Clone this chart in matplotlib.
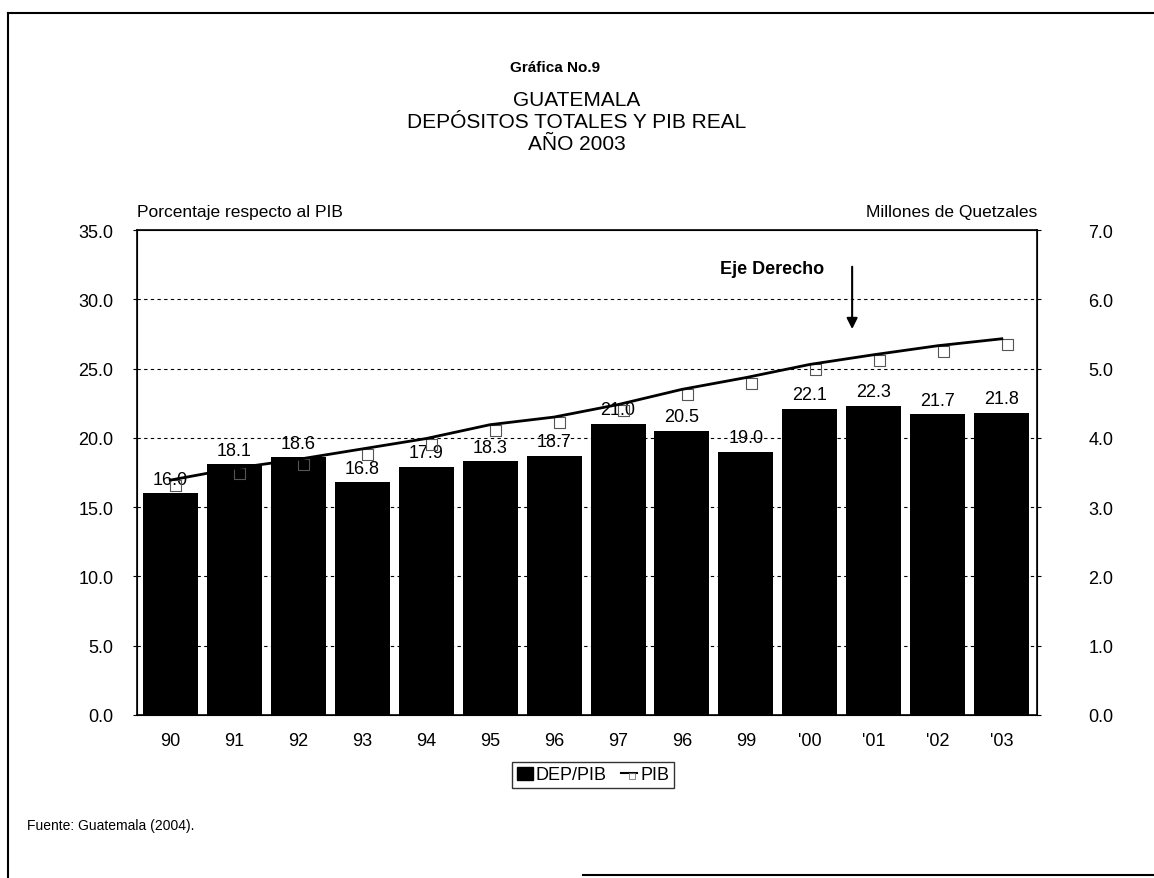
import matplotlib
matplotlib.use("Agg")
import matplotlib.pyplot as plt
from matplotlib.path import Path
from matplotlib.lines import Line2D
import matplotlib.patches as mpatches
import numpy as np

plt.rcParams["font.family"] = ["Liberation Sans", "DejaVu Sans"]

years = ["90", "91", "92", "93", "94", "95", "96", "97", "96", "99", "'00", "'01", "'02", "'03"]
dep_pib = [16.0, 18.1, 18.6, 16.8, 17.9, 18.3, 18.7, 21.0, 20.5, 19.0, 22.1, 22.3, 21.7, 21.8]
pib = [3.39, 3.56, 3.69, 3.84, 3.99, 4.19, 4.30, 4.48, 4.70, 4.87, 5.06, 5.20, 5.33, 5.43]

left_ticks = [0, 5, 10, 15, 20, 25, 30, 35]
right_ticks = [0, 1, 2, 3, 4, 5, 6, 7]
title_lines = ["GUATEMALA", "DEPÓSITOS TOTALES Y PIB REAL", "AÑO 2003"]

W, H = 1154, 879
FS = 13

fig = plt.figure(figsize=(W / 100, H / 100), dpi=100)

# page frame (scanned page border)
fig.add_artist(Line2D([8 / W, 8 / W], [0, 1 - 14 / H], color="black", lw=1.5))
fig.add_artist(Line2D([8 / W, 1], [1 - 14 / H, 1 - 14 / H], color="black", lw=1.5))
fig.add_artist(Line2D([583 / W, 1], [1 - 876 / H, 1 - 876 / H], color="black", lw=1.5))

ax = fig.add_axes([137 / W, 1 - 716 / H, 900 / W, 485 / H])
x = np.arange(len(years))

ax.bar(x, dep_pib, width=0.86, color="black", zorder=2)
for xi, v in zip(x, dep_pib):
    ax.annotate(f"{v:.1f}", (xi, v), xytext=(0, 4), textcoords="offset points",
                ha="center", va="bottom", fontsize=FS, zorder=5)

ax.set_xlim(-0.52, 13.55)
ax.set_ylim(0, 35)
ax.set_yticks(left_ticks)
ax.set_yticklabels([f"{t:.1f}" for t in left_ticks], fontsize=FS)
ax.set_xticks(x)
ax.set_xticklabels(years, fontsize=FS)
ax.tick_params(axis="x", length=0, pad=12)
ax.tick_params(axis="y", length=3, pad=14)
for t in [5, 10, 15, 20, 25, 30]:
    ax.axhline(t, color="black", lw=0.8, ls=(0, (3, 3)), zorder=1)

ax2 = ax.twinx()
ax2.set_ylim(0, 7)
ax2.set_yticks(right_ticks)
ax2.set_yticklabels([f"{t:.1f}" for t in right_ticks], fontsize=FS)
ax2.tick_params(axis="y", length=3, pad=34)

# small square hanging below-right of each line point
hang = Path([(0, -1), (1, -1), (1, 0), (0, 0), (0, -1)],
            [Path.MOVETO, Path.LINETO, Path.LINETO, Path.LINETO, Path.CLOSEPOLY])
ax2.plot(x, pib, color="black", lw=2, zorder=4)
ax2.plot(x, pib, ls="none", marker=hang, markersize=16, markerfacecolor="none",
         markeredgecolor="#555555", markeredgewidth=0.8, zorder=3)

for sp in ["left", "right", "top", "bottom"]:
    ax2.spines[sp].set_linewidth(1.2)

ax2.annotate("", xy=(10.66, 5.53), xytext=(10.66, 6.51),
             arrowprops=dict(arrowstyle="-|>", color="black", lw=1.5, mutation_scale=16))
ax2.text(9.41, 6.45, "Eje Derecho", ha="center", va="center", fontsize=13, fontweight="bold")

fig.text(137 / W, 1 - 213 / H, "Porcentaje respecto al PIB", ha="left", va="center", fontsize=12.5)
fig.text(1037 / W, 1 - 213 / H, "Millones de Quetzales", ha="right", va="center", fontsize=12.5)

fig.text(555 / W, 1 - 68 / H, "Gráfica No.9", ha="center", va="center", fontsize=11, fontweight="bold")
for i, line in enumerate(title_lines):
    fig.text(577 / W, 1 - (100 + 22 * i) / H, line, ha="center", va="center", fontsize=15)

handles = [mpatches.Patch(facecolor="black", edgecolor="black"),
           Line2D([], [], color="black", lw=1.5, marker=hang, markersize=9,
                  markerfacecolor="none", markeredgecolor="#777777", markeredgewidth=0.6)]
fig.legend(handles, ["DEP/PIB", "PIB"], loc="center", bbox_to_anchor=(593 / W, 1 - 776 / H),
           ncol=2, fontsize=FS, frameon=True, fancybox=False, edgecolor="black",
           handlelength=0.9, handletextpad=0.15, columnspacing=0.8, borderpad=0.25,
           borderaxespad=0)

fig.text(27 / W, 1 - 826 / H, "Fuente: Guatemala (2004).", ha="left", va="center", fontsize=10)

fig.savefig("out.png", dpi=100)
